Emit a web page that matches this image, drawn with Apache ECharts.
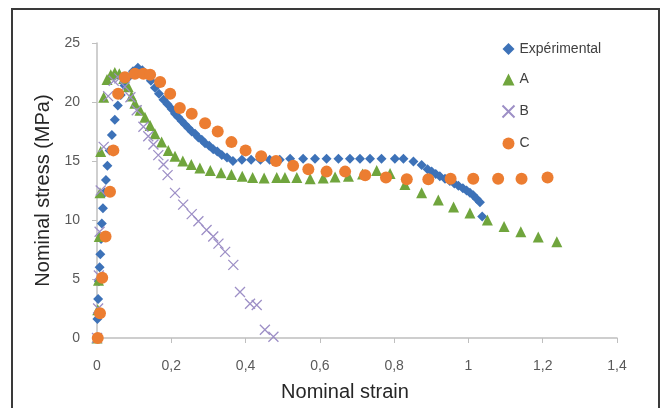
<!DOCTYPE html>
<html><head><meta charset="utf-8">
<script src="https://cdn.jsdelivr.net/npm/echarts@6/dist/echarts.min.js"></script>
<style>html,body{margin:0;padding:0;background:#fff}#c{width:663px;height:408px}</style>
</head><body><div id="c"></div>
<script>
var xTicks = ["0","0,2","0,4","0,6","0,8","1","1,2","1,4"];
var yTicks = ["0","5","10","15","20","25"];
var seriesNames = ["Expérimental","A","B","C"];

var expX = [0,0.001,0.003,0.005,0.007,0.009,0.011,0.013,0.016,0.02,0.024,0.028,0.034,0.04,0.048,0.056,0.064,0.074,0.085,0.097,0.11,0.122,0.134,0.145,0.156,0.167,0.179,0.19,0.201,0.21,0.219,0.228,0.237,0.246,0.255,0.264,0.273,0.282,0.291,0.302,0.313,0.324,0.336,0.35,0.366,0.39,0.415,0.44,0.465,0.492,0.52,0.555,0.587,0.618,0.65,0.681,0.708,0.735,0.766,0.802,0.825,0.852,0.874,0.89,0.901,0.912,0.923,0.937,0.95,0.962,0.973,0.985,0.995,1.004,1.013,1.022,1.031,1.037];
var expY = [0,1.6,3.3,4.8,6.0,7.1,8.4,9.7,11.0,12.3,13.4,14.6,15.9,17.2,18.5,19.7,20.6,21.4,22.1,22.6,22.9,22.7,22.3,21.8,21.2,20.7,20.2,19.8,19.4,19.0,18.7,18.4,18.1,17.8,17.5,17.3,17.0,16.8,16.5,16.3,16.0,15.8,15.5,15.3,15.0,15.1,15.1,15.1,15.1,15.1,15.2,15.2,15.2,15.2,15.2,15.2,15.2,15.2,15.2,15.2,15.2,14.95,14.66,14.3,14.1,13.9,13.7,13.5,13.3,13.1,12.9,12.7,12.5,12.3,12.1,11.8,11.5,10.3];

var aX = [0,0.002,0.004,0.006,0.008,0.01,0.018,0.027,0.037,0.048,0.06,0.072,0.084,0.093,0.102,0.116,0.129,0.143,0.156,0.174,0.192,0.21,0.231,0.254,0.277,0.305,0.334,0.362,0.391,0.419,0.45,0.484,0.506,0.538,0.574,0.609,0.641,0.677,0.715,0.753,0.789,0.829,0.874,0.919,0.96,1.004,1.051,1.096,1.141,1.188,1.238];
var aY = [0,2.4,4.9,8.6,12.3,15.8,20.4,21.9,22.3,22.5,22.4,22.0,21.3,20.5,19.9,19.3,18.7,18.0,17.3,16.6,15.9,15.4,15.0,14.7,14.4,14.2,14.0,13.85,13.7,13.6,13.55,13.6,13.6,13.6,13.5,13.55,13.65,13.7,13.9,14.2,13.95,13.0,12.3,11.7,11.1,10.6,10.0,9.45,9.0,8.55,8.15];

var bX = [0,0.003,0.005,0.007,0.01,0.018,0.03,0.045,0.06,0.075,0.09,0.107,0.125,0.138,0.152,0.165,0.179,0.19,0.21,0.232,0.255,0.273,0.295,0.313,0.327,0.345,0.367,0.385,0.412,0.43,0.452,0.475];
var bY = [0,2.5,5.3,9.0,12.5,16.2,20.5,21.8,22.0,21.3,20.4,19.3,17.9,17.1,16.4,15.5,14.7,13.8,12.3,11.3,10.5,9.9,9.15,8.6,8.0,7.3,6.2,3.9,2.9,2.8,0.7,0.1];

var cX = [0.002,0.008,0.014,0.023,0.035,0.044,0.057,0.075,0.102,0.125,0.143,0.17,0.197,0.223,0.255,0.291,0.325,0.362,0.4,0.442,0.482,0.528,0.569,0.618,0.668,0.722,0.778,0.834,0.892,0.952,1.013,1.08,1.143,1.213];
var cY = [0,2.1,5.1,8.6,12.4,15.9,20.7,22.1,22.4,22.4,22.3,21.7,20.7,19.5,19.0,18.2,17.5,16.6,15.9,15.4,15.0,14.6,14.3,14.1,14.1,13.8,13.6,13.45,13.45,13.5,13.5,13.5,13.5,13.6];

function zip(xs, ys){ return xs.map(function(x,i){ return [x, ys[i]]; }); }

var crossPath = 'path://M0,0L10,10M10,0L0,10';
var chart = echarts.init(document.getElementById('c'), null, {renderer:'canvas'});
var labelFmt = function(v){ var s = String(Math.round(v*10)/10); return s.replace('.', ','); };
chart.setOption({
  animation: false,
  backgroundColor: '#fff',
  graphic: [{type:'rect', shape:{x:12, y:9, width:647, height:420}, style:{fill:'none', stroke:'#3a3a3a', lineWidth:2}, silent:true, z:-1}],
  grid: {left: 97, right: 46, top: 43, bottom: 70},
  legend: {
    orient: 'vertical', left: 495, top: 37, itemWidth: 12, itemHeight: 12, itemGap: 16.5,
    data: seriesNames,
    textStyle: {fontFamily: 'Liberation Sans', fontSize: 14, color: '#404040'}
  },
  xAxis: {
    type: 'value', min: 0, max: 1.4, interval: 0.2,
    name: 'Nominal strain', nameLocation: 'middle', nameGap: 44,
    nameTextStyle: {fontFamily: 'Liberation Sans', fontSize: 20, color: '#262626', padding: [0, 24, 0, 0]},
    axisLine: {show: true, lineStyle: {color: '#bfbfbf', width: 1.5}},
    axisTick: {show: true, length: 5, lineStyle: {color: '#bfbfbf'}},
    splitLine: {show: false},
    axisLabel: {margin: 21, fontFamily: 'Liberation Sans', fontSize: 14, color: '#595959',
      formatter: function(v){ var i = Math.round(v/0.2); return xTicks[i] !== undefined ? xTicks[i] : labelFmt(v); }}
  },
  yAxis: {
    type: 'value', min: 0, max: 25, interval: 5,
    name: 'Nominal stress (MPa)', nameLocation: 'middle', nameGap: 44,
    nameTextStyle: {fontFamily: 'Liberation Sans', fontSize: 20, color: '#262626'},
    axisLine: {show: true, lineStyle: {color: '#bfbfbf', width: 1.5}},
    axisTick: {show: true, length: 5, lineStyle: {color: '#bfbfbf'}},
    splitLine: {show: false},
    axisLabel: {margin: 17, fontFamily: 'Liberation Sans', fontSize: 14, color: '#595959',
      formatter: function(v){ var i = Math.round(v/5); return yTicks[i] !== undefined ? yTicks[i] : String(v); }}
  },
  series: [
    {name: seriesNames[0], type: 'scatter', symbol: 'diamond', symbolSize: 10, data: zip(expX, expY), itemStyle: {color: '#3d72b8', opacity: 1}},
    {name: seriesNames[1], type: 'scatter', symbol: 'triangle', symbolSize: 11, data: zip(aX, aY), itemStyle: {color: '#70a53d', opacity: 1}},
    {name: seriesNames[2], type: 'scatter', symbol: crossPath, symbolSize: 10, data: zip(bX, bY), itemStyle: {color: 'none', borderColor: '#9d8fc6', borderWidth: 1.3, opacity: 1}},
    {name: seriesNames[3], type: 'scatter', symbol: 'circle', symbolSize: 12, data: zip(cX, cY), itemStyle: {color: '#ec7d31', opacity: 1}}
  ]
});
</script></body></html>
